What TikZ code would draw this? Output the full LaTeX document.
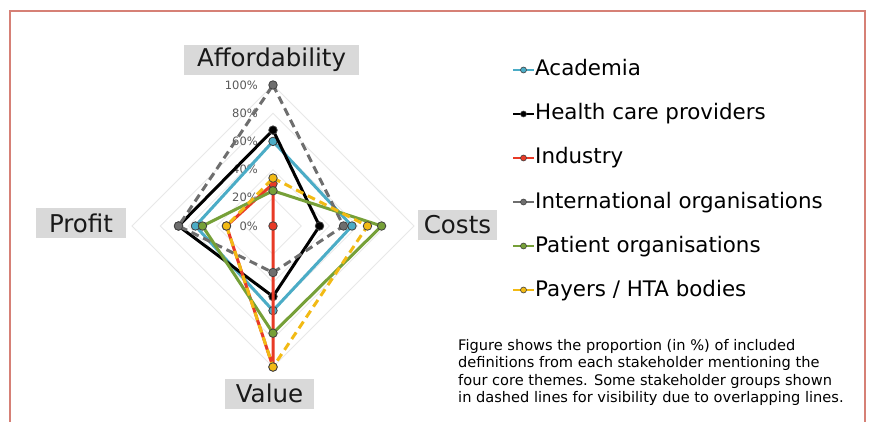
\documentclass[tikz,border=0pt]{standalone}
\usepackage{fontspec}
\setmainfont{DejaVu Sans}
\definecolor{acad}{RGB}{75,172,198}
\definecolor{indu}{RGB}{232,58,38}
\definecolor{intl}{RGB}{110,110,110}
\definecolor{pati}{RGB}{118,160,56}
\definecolor{paye}{RGB}{242,186,20}
\definecolor{framecol}{RGB}{214,128,118}
\definecolor{labfill}{RGB}{217,217,217}
\definecolor{gridcol}{RGB}{232,232,232}
\definecolor{pctcol}{RGB}{89,89,89}
\tikzset{
  axlab/.style={fill=labfill, font=\fontsize{24.5}{28}\selectfont, minimum height=30pt, inner xsep=13pt, inner ysep=0pt, text=black!90},
  ser/.style={line width=3pt, line join=round},
  dsh/.style={dash pattern=on 8pt off 5pt},
  dot/.style={circle, inner sep=0pt, minimum size=8.5pt, draw=black!75, line width=0.8pt},
  legdot/.style={circle, inner sep=0pt, minimum size=6pt, draw=black!75, line width=0.6pt},
  legline/.style={line width=2pt},
  legtxt/.style={anchor=base west, font=\fontsize{21.4}{24}\selectfont, inner sep=0pt},
  pctlab/.style={anchor=east, font=\fontsize{11.5}{13}\selectfont, text=pctcol, inner sep=0pt},
  captxt/.style={anchor=base west, font=\fontsize{14.6}{17.5}\selectfont, inner sep=0pt},
  gridline/.style={draw=gridcol, line width=0.8pt},
}
\newcommand\radarseries[7]{%
  \coordinate (#1A) at (273,{226-1.41*#4});
  \coordinate (#1C) at ({273+1.41*#5},226);
  \coordinate (#1V) at (273,{226+1.41*#6});
  \coordinate (#1P) at ({273-1.41*#7},226);
  \draw[ser,#2,#3] (#1A) -- (#1C) -- (#1V) -- (#1P) -- cycle;
  \node[dot,fill=#2] (#1Adot) at (#1A) {};
  \node[dot,fill=#2] (#1Cdot) at (#1C) {};
  \node[dot,fill=#2] (#1Vdot) at (#1V) {};
  \node[dot,fill=#2] (#1Pdot) at (#1P) {};
}
\begin{document}
\begin{tikzpicture}[x=1pt,y=-1pt]
\useasboundingbox[fill=white] (0,0) rectangle (872,422);
% frame
\draw[framecol, line width=2pt] (10,422) -- (10,11) -- (865,11) -- (865,422);
% grid
\foreach \r in {20,40,60,80,100}{
  \draw[gridline] (273,{226-1.41*\r}) -- ({273+1.41*\r},226) -- (273,{226+1.41*\r}) -- ({273-1.41*\r},226) -- cycle;
}
% percent labels
\foreach \r in {0,20,40,60,80,100}{
  \node[pctlab] (pct\r) at (258,{226-1.41*\r}) {\r\%};
}
% series: name, colour, style, Affordability, Costs, Value, Profit
\radarseries{ac}{acad}{}{60}{56}{60}{55}
\radarseries{hc}{black}{}{68}{33}{50}{67}
\radarseries{in}{indu}{}{30}{0}{100}{33}
\radarseries{io}{intl}{dsh}{100}{50}{33}{67}
\radarseries{po}{pati}{}{25}{77}{76}{50}
\radarseries{py}{paye}{dsh}{34}{67}{100}{33}
% axis labels
\node[axlab] (afford) at (271.5,60) {Affordability};
\node[axlab] (profit) at (81,223) {Profit};
\node[axlab, inner xsep=6pt] (costs) at (457.5,225) {Costs};
\node[axlab, inner xsep=11pt] (value) at (269.5,393.5) {Value};
% legend
\draw[legline,acad] (513,70) coordinate (l1a) -- (534,70) coordinate (l1b) node[midway,legdot,fill=acad] (l1d) {};
\node[legtxt] (l1) at (535,76) {Academia};
\draw[legline,black] (513,114) coordinate (l2a) -- (534,114) coordinate (l2b) node[midway,legdot,fill=black] (l2d) {};
\node[legtxt] (l2) at (535,120) {Health care providers};
\draw[legline,indu] (513,158) coordinate (l3a) -- (534,158) coordinate (l3b) node[midway,legdot,fill=indu] (l3d) {};
\node[legtxt] (l3) at (535,164) {Industry};
\draw[legline,intl] (513,202) coordinate (l4a) -- (534,202) coordinate (l4b) node[midway,legdot,fill=intl] (l4d) {};
\node[legtxt] (l4) at (535,208) {International organisations};
\draw[legline,pati] (513,246) coordinate (l5a) -- (534,246) coordinate (l5b) node[midway,legdot,fill=pati] (l5d) {};
\node[legtxt] (l5) at (535,252) {Patient organisations};
\draw[legline,paye] (513,290) coordinate (l6a) -- (534,290) coordinate (l6b) node[midway,legdot,fill=paye] (l6d) {};
\node[legtxt] (l6) at (535,296) {Payers / HTA bodies};
% caption
\node[captxt] (cap1) at (458,350) {Figure shows the proportion (in \%) of included};
\node[captxt] (cap2) at (458,367.5) {definitions from each stakeholder mentioning the};
\node[captxt] (cap3) at (458,385) {four core themes. Some stakeholder groups shown};
\node[captxt] (cap4) at (458,402.5) {in dashed lines for visibility due to overlapping lines.};
\end{tikzpicture}
\end{document}
